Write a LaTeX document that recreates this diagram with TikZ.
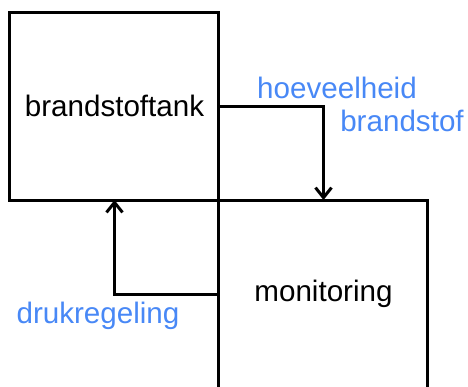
\documentclass[tikz,border=0pt]{standalone}
\usepackage{fontspec}
\setmainfont{Liberation Sans}
\usetikzlibrary{arrows.meta,positioning}
\definecolor{lblblue}{RGB}{72,136,246}

\begin{document}
\begin{tikzpicture}[x=0.5pt,y=-0.5pt,node distance=0pt,
 b/.style={draw,line width=1.5pt,minimum width=104.5pt,minimum height=94pt,inner sep=0pt,outer sep=0pt,font=\fontsize{14.8}{17}\selectfont},
 lbl/.style={text=lblblue,inner sep=0pt,font=\fontsize{14.8}{17}\selectfont},
 >={Straight Barb[length=5pt,width=8pt,line width=1.5pt]}]
\path[use as bounding box,clip] (0,0) rectangle (468,387);
\node[b] (tank) at (114.5,106) {brandstoftank};
\node[b,below right=of tank.south east] (mon) {monitoring};
\draw[->,line width=1.5pt] (tank.east)-|(mon.north);
\draw[->,line width=1.5pt] (mon.west)-|(tank.south);
\node[lbl] (hv) at (337,88) {hoeveelheid};
\node[lbl] (bs) at (402,121) {brandstof};
\node[lbl] (dr) at (98,316) {drukregeling};
\end{tikzpicture}
\end{document}
